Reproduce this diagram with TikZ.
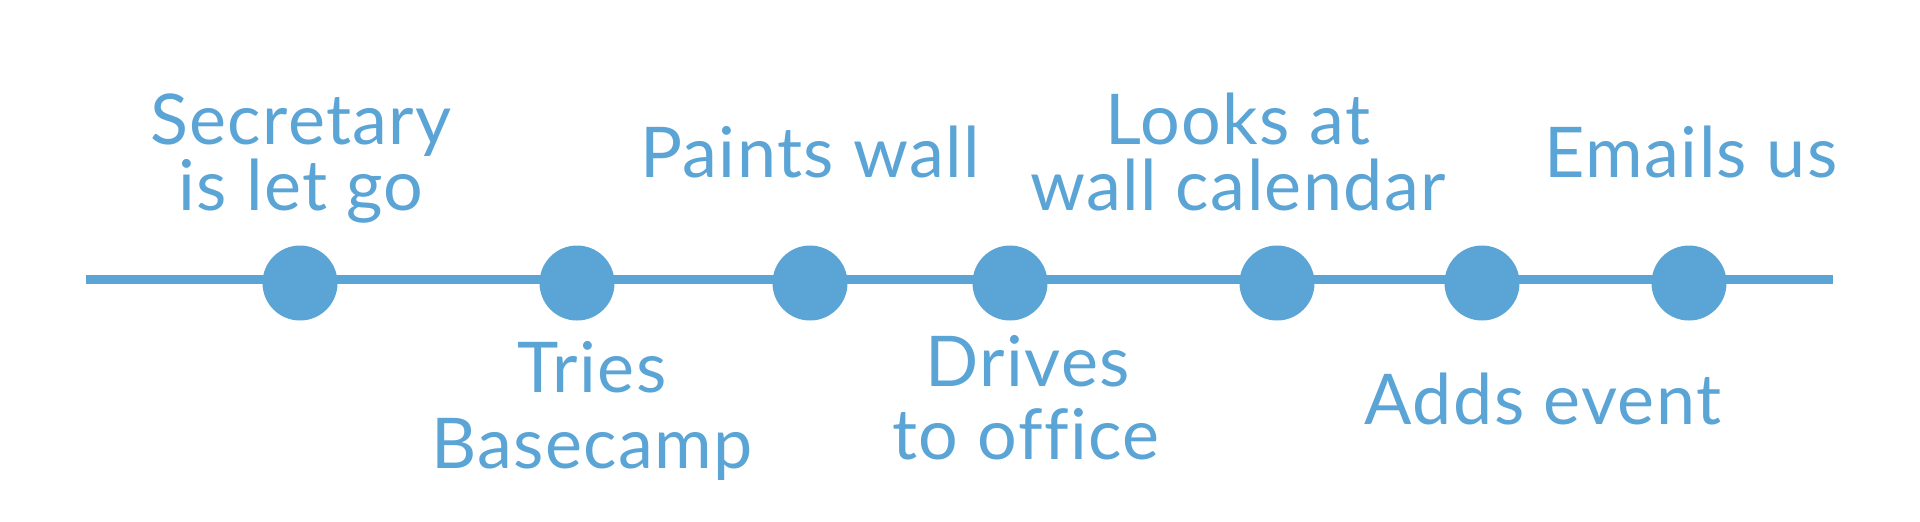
\documentclass[tikz,border=0pt]{standalone}
\usepackage{fontspec}
\setmainfont{Lato}[Ligatures=CommonOff,LetterSpace=2]
\definecolor{tlblue}{RGB}{91,164,214}
\begin{document}
\begin{tikzpicture}[x=0.5pt,y=-0.5pt,
  lbl/.style={text=tlblue,font=\fontsize{35}{42}\selectfont,anchor=base,inner sep=0pt},
  dot/.style={circle,fill=tlblue,minimum size=37.5pt,inner sep=0pt},
  axis/.style={draw=tlblue,line width=4.5pt}]
\fill[white] (0,0) rectangle (1920,521);
\useasboundingbox (0,0) rectangle (1920,521);
\coordinate (ls) at (86,279);
\coordinate (le) at (1833,279);
\draw[axis] (ls) -- (le);
\foreach \n/\x in {1/300,2/577,3/810,4/1010,5/1277,6/1482,7/1689}
  \node[dot] (d\n) at (\x,283) {};
% top labels
\node[lbl] (t1a) at (301,144) {Secretary};
\node[lbl] (t1b) at (301,210) {is let go};
\node[lbl] (t3) at (810,177) {Paints wall};
\node[lbl] (t5a) at (1238,144) {Looks at};
\node[lbl] (t5b) at (1238,210) {wall calendar};
\node[lbl] (t7) at (1691,177) {Emails us};
% bottom labels
\node[lbl] (b2a) at (592,392) {Tries};
\node[lbl] (b2b) at (592,468) {Basecamp};
\node[lbl] (b4a) at (1028,386) {Drives};
\node[lbl] (b4b) at (1026,459) {to office};
\node[lbl] (b6) at (1543,424) {Adds event};
\end{tikzpicture}
\end{document}
